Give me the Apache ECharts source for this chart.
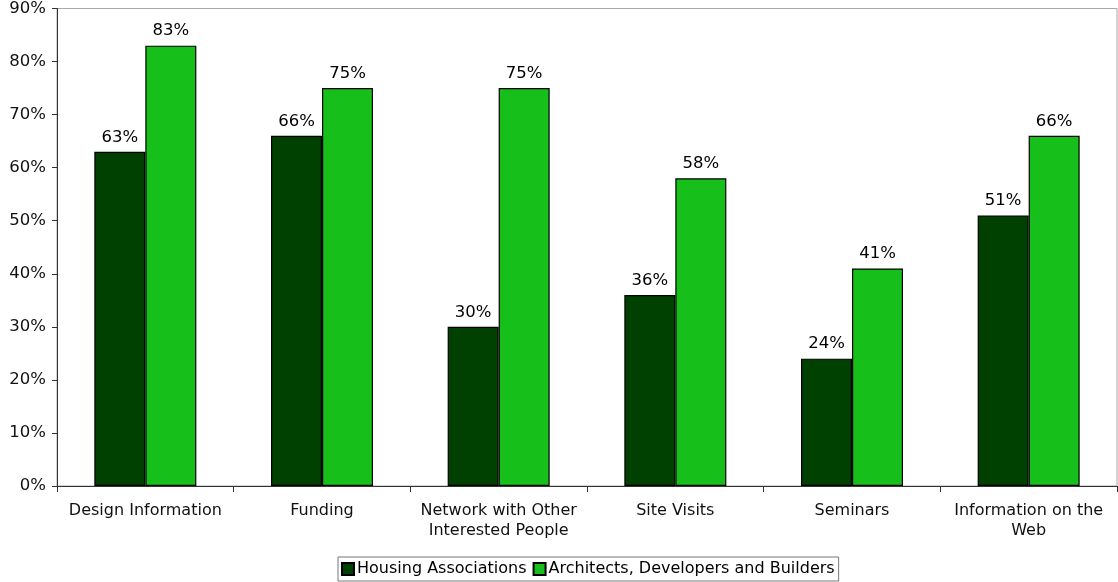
<!DOCTYPE html>
<html>
<head>
<meta charset="utf-8">
<script src="https://cdn.jsdelivr.net/npm/echarts@6/dist/echarts.min.js"></script>
<style>html,body{margin:0;padding:0;background:#fff}#c{width:1118px;height:582px}</style>
</head>
<body>
<div id="c"></div>
<script>
const categories = ['Design Information', 'Funding', 'Network with Other\nInterested People', 'Site Visits', 'Seminars', 'Information on the\nWeb'];
const housingAssociations = [63, 66, 30, 36, 24, 51];
const architectsDevelopersBuilders = [83, 75, 75, 58, 41, 66];
const seriesNames = ['Housing Associations', 'Architects, Developers and Builders'];

const font = 'DejaVu Sans, Verdana, sans-serif';
const chart = echarts.init(document.getElementById('c'));
const labelCfg = {show: true, position: 'top', distance: 6, formatter: p => p.value + '%', color: '#000', fontFamily: font, fontSize: 16.5};
chart.setOption({
  animation: false,
  grid: {left: 57, right: 1, top: 8, bottom: 96, show: true, borderColor: '#a8a8a8', borderWidth: 1},
  legend: {
    bottom: 1, left: 338,
    itemWidth: 12, itemHeight: 12, itemGap: 6,
    borderColor: '#777', borderWidth: 1, padding: [4, 4, 4, 3],
    textStyle: {fontFamily: font, fontSize: 16, color: '#000', padding: [0, 0, 0, -2]},
    data: seriesNames.map(n => ({name: n, icon: 'rect'}))
  },
  xAxis: {
    type: 'category', data: categories,
    axisLine: {lineStyle: {color: '#333', width: 1}},
    axisTick: {show: true, length: 6, lineStyle: {color: '#333'}},
    axisLabel: {fontFamily: font, fontSize: 16, color: '#111', margin: 15, lineHeight: 20, interval: 0}
  },
  yAxis: {
    type: 'value', min: 0, max: 90, interval: 10,
    axisLine: {show: true, lineStyle: {color: '#333', width: 1}},
    axisTick: {show: true, length: 5, lineStyle: {color: '#333'}},
    splitLine: {show: false},
    axisLabel: {formatter: '{value}%', fontFamily: font, fontSize: 16.5, color: '#111', margin: 11}
  },
  series: [
    {name: seriesNames[0], type: 'bar', data: housingAssociations, barWidth: 51, barGap: '0%',
     itemStyle: {color: '#004000', borderColor: '#000', borderWidth: 1.2}, label: labelCfg},
    {name: seriesNames[1], type: 'bar', data: architectsDevelopersBuilders, barWidth: 51,
     itemStyle: {color: '#17bf1a', borderColor: '#000', borderWidth: 1.2}, label: labelCfg}
  ]
});
</script>
</body>
</html>
